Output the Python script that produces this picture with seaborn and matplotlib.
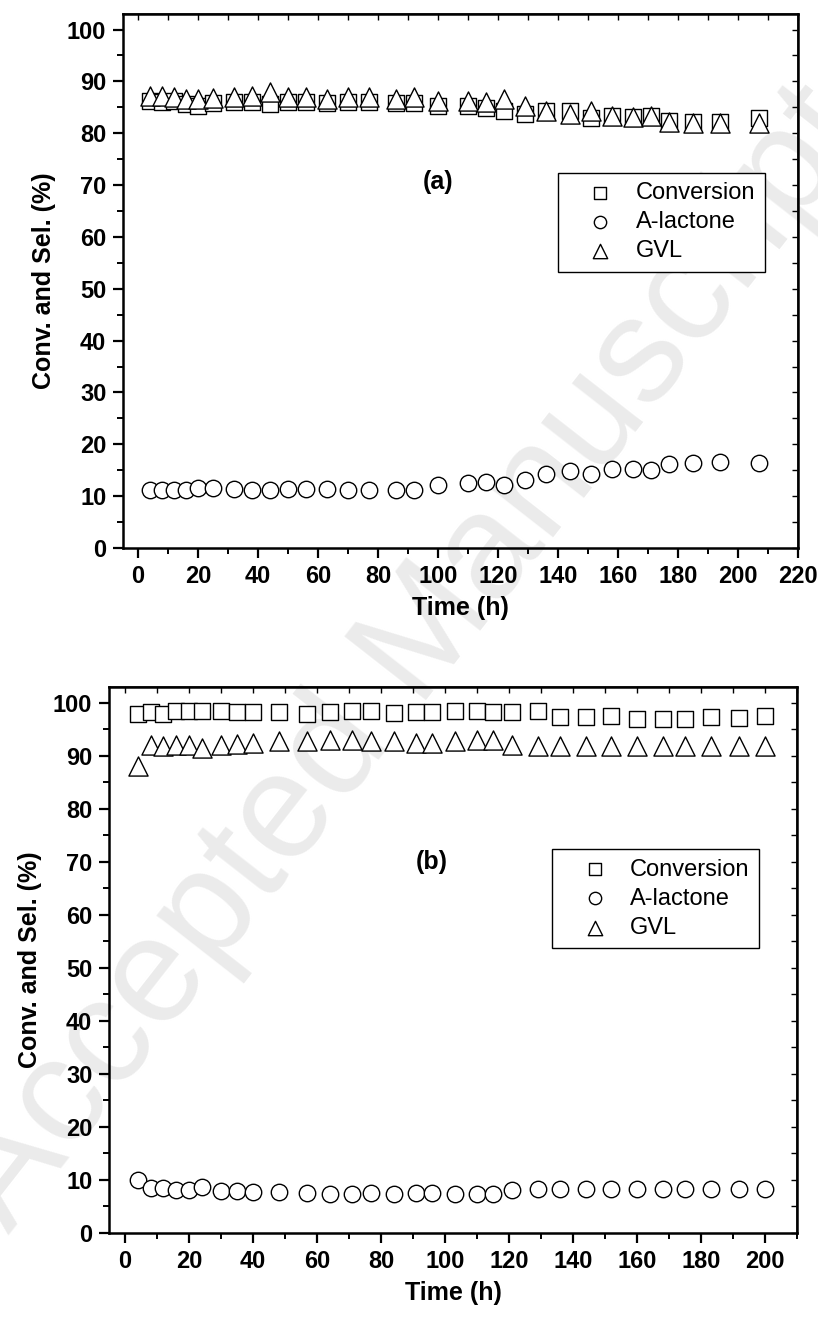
import numpy as np
import pandas as pd
import seaborn as sns
import matplotlib.pyplot as plt
from matplotlib.ticker import MultipleLocator

sns.set_theme(style='ticks')
plt.rcParams['font.family'] = ['Liberation Sans', 'DejaVu Sans']
plt.rcParams['text.color'] = 'black'
plt.rcParams['axes.labelcolor'] = 'black'
plt.rcParams['xtick.color'] = 'black'
plt.rcParams['ytick.color'] = 'black'

# ---------------- data: panel (a) ----------------
time_a = [4, 8, 12, 16, 20, 25, 32, 38, 44, 50, 56, 63, 70, 77, 86, 92, 100, 110, 116, 122,
          129, 136, 144, 151, 158, 165, 171, 177, 185, 194, 207]
conv_a = [86.2, 86.0, 86.3, 85.6, 85.3, 85.9, 86.0, 86.0, 85.7, 86.0, 86.1, 85.9, 86.0, 86.0, 85.9,
          85.9, 85.2, 85.3, 84.9, 84.3, 83.8, 84.3, 84.3, 82.9, 83.3, 83.1, 83.3, 82.3, 82.1, 82.1, 83.0]
alac_a = [11.2, 11.2, 11.2, 11.2, 11.5, 11.6, 11.3, 11.2, 11.1, 11.3, 11.3, 11.3, 11.2, 11.2, 11.2,
          11.2, 12.1, 12.5, 12.7, 12.1, 13.2, 14.3, 14.8, 14.3, 15.2, 15.2, 15.1, 16.2, 16.4, 16.5, 16.4]
gvl_a = [87.2, 87.2, 87.0, 86.6, 86.6, 86.8, 86.9, 87.2, 88.0, 86.9, 86.9, 86.6, 86.9, 86.9, 86.6,
         86.9, 86.2, 86.3, 86.0, 86.6, 85.2, 84.3, 83.7, 84.2, 83.4, 83.2, 83.4, 82.2, 81.9, 81.9, 82.0]

# ---------------- data: panel (b) ----------------
time_b = [4, 8, 12, 16, 20, 24, 30, 35, 40, 48, 57, 64, 71, 77, 84, 91, 96, 103, 110, 115,
          121, 129, 136, 144, 152, 160, 168, 175, 183, 192, 200]
conv_b = [97.9, 98.2, 97.9, 98.4, 98.4, 98.5, 98.5, 98.2, 98.2, 98.2, 97.9, 98.2, 98.4, 98.5, 98.0,
          98.2, 98.2, 98.4, 98.4, 98.2, 98.2, 98.4, 97.4, 97.4, 97.6, 97.0, 96.9, 97.0, 97.4, 97.2, 97.5]
alac_b = [10.0, 8.5, 8.5, 8.2, 8.2, 8.7, 8.0, 8.0, 7.8, 7.7, 7.6, 7.4, 7.4, 7.6, 7.4,
          7.6, 7.6, 7.4, 7.3, 7.3, 8.1, 8.3, 8.3, 8.3, 8.3, 8.3, 8.3, 8.3, 8.3, 8.3, 8.3]
gvl_b = [88.0, 92.0, 91.8, 92.0, 92.0, 91.5, 92.0, 92.3, 92.5, 92.8, 92.8, 93.0, 93.0, 92.8, 92.8,
         92.5, 92.5, 92.8, 93.0, 93.0, 92.0, 91.8, 91.8, 91.8, 91.8, 91.8, 91.8, 91.8, 91.8, 91.8, 91.8]

series_labels = ['Conversion', 'A-lactone', 'GVL']
panel_tags = ['(a)', '(b)']
xlabel = 'Time (h)'
ylabel = 'Conv. and Sel. (%)'

fig = plt.figure(figsize=(8.18, 13.18), dpi=100)

# watermark
fig.text(0.50, 0.50, 'Accepted Manuscript', rotation=52, fontsize=108, color='#ebebeb',
         ha='center', va='center', zorder=-5, family=['Liberation Sans', 'DejaVu Sans'])

ax_a = fig.add_axes([0.1504, 0.5842, 0.8252, 0.4052])
ax_b = fig.add_axes([0.1333, 0.0645, 0.8411, 0.4143])


def draw(ax, t, conv, alac, gvl, tag, tag_xy, xlim, xmax_tick):
    ax.set_facecolor('none')
    common = dict(ax=ax, color='white', edgecolor='black', linewidth=1.0, legend=False)
    sns.scatterplot(x=t, y=conv, marker='s', s=125, zorder=3, label=series_labels[0], **common)
    sns.scatterplot(x=t, y=alac, marker='o', s=140, zorder=4, label=series_labels[1], **common)
    sns.scatterplot(x=t, y=gvl, marker='^', s=190, zorder=5, label=series_labels[2], **common)
    ax.set_xlim(*xlim)
    ax.set_ylim(0, 103)
    ax.xaxis.set_major_locator(MultipleLocator(20))
    ax.xaxis.set_minor_locator(MultipleLocator(10))
    ax.yaxis.set_major_locator(MultipleLocator(10))
    ax.yaxis.set_minor_locator(MultipleLocator(5))
    ax.set_xticks(np.arange(0, xmax_tick + 1, 20))
    ax.set_yticks(np.arange(0, 101, 10))
    ax.set_xlim(*xlim)
    ax.tick_params(which='major', direction='out', length=7, width=1.6,
                   labelsize=17, colors='black', pad=5)
    ax.tick_params(which='minor', direction='out', length=4, width=1.4, colors='black')
    for lab in ax.get_xticklabels() + ax.get_yticklabels():
        lab.set_fontweight('bold')
    for sp in ax.spines.values():
        sp.set_linewidth(1.8)
        sp.set_color('black')
    # inward ticks on top and right
    sx = ax.secondary_xaxis('top')
    sx.xaxis.set_major_locator(MultipleLocator(10))
    sx.tick_params(direction='in', length=4, width=1.0, labeltop=False, colors='black')
    sy = ax.secondary_yaxis('right')
    sy.yaxis.set_major_locator(MultipleLocator(5))
    sy.tick_params(direction='in', length=4, width=1.0, labelright=False, colors='black')
    ax.set_xlabel(xlabel, fontsize=18, fontweight='bold', labelpad=6, color='black')
    ax.set_ylabel(ylabel, fontsize=18, fontweight='bold', labelpad=8, color='black')
    ax.text(tag_xy[0], tag_xy[1], tag, fontsize=18, fontweight='bold', ha='center', va='center',
            color='black')
    leg = ax.legend(loc='upper left', bbox_to_anchor=(0.644, 0.703), fontsize=17,
                    frameon=True, fancybox=False, shadow=False, scatterpoints=1,
                    markerscale=0.75, handlelength=2.8, handletextpad=0.1,
                    labelspacing=0.3, borderpad=0.4, borderaxespad=0.0)
    for txt in leg.get_texts():
        txt.set_color('black')
    leg.get_frame().set_edgecolor('black')
    leg.get_frame().set_linewidth(1.0)
    leg.get_frame().set_facecolor('white')
    leg.get_frame().set_alpha(1.0)


draw(ax_a, time_a, conv_a, alac_a, gvl_a, panel_tags[0], (100, 70.5), (-5, 220), 220)
draw(ax_b, time_b, conv_b, alac_b, gvl_b, panel_tags[1], (96, 70), (-5, 210), 200)

fig.savefig('out.png', dpi=100)
